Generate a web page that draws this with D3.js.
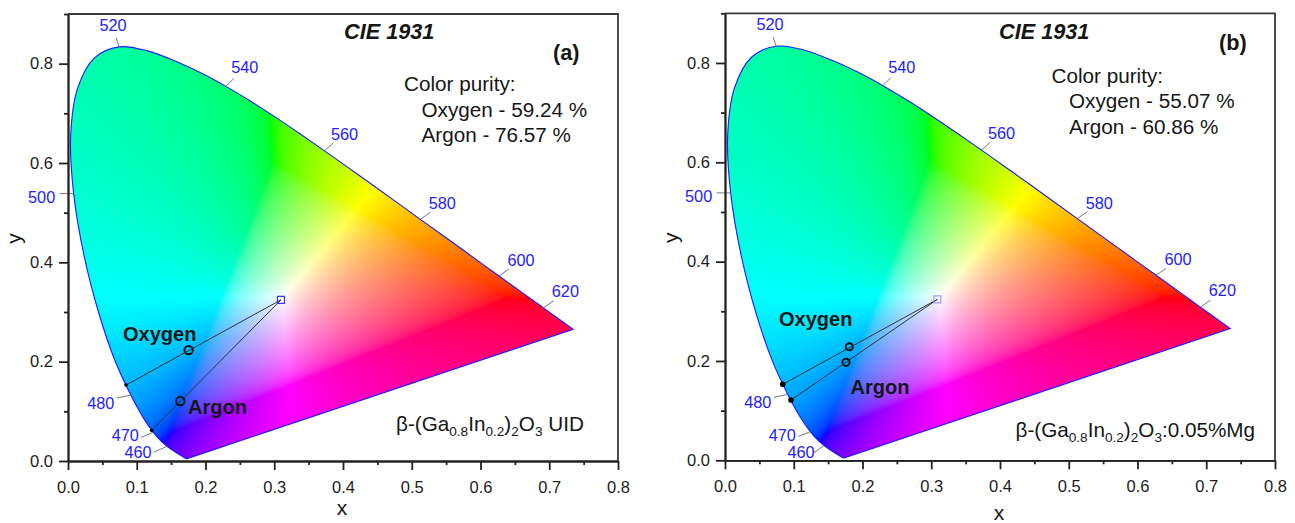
<!DOCTYPE html>
<html>
<head>
<meta charset="utf-8">
<script src="https://cdn.jsdelivr.net/npm/d3@7"></script>
<style>
  html, body { margin: 0; padding: 0; background: #fff; }
  svg { display: block; }
  text { font-family: "Liberation Sans", Arial, sans-serif; fill: #161616; }
</style>
</head>
<body>
<script>
// spectral locus (x, y by wavelength)
const locusNm = [400,420,430,440,450,460,465,470,475,480,485,490,495,500,505,510,515,520,525,530,535,540,545,550,555,560,565,570,575,580,585,590,595,600,605,610,615,620,630,640,650,700];
const locusX = [0.1733,0.1714,0.1689,0.1644,0.1566,0.1440,0.1355,0.1241,0.1096,0.0913,0.0687,0.0454,0.0235,0.0082,0.0039,0.0139,0.0389,0.0743,0.1142,0.1547,0.1929,0.2296,0.2658,0.3016,0.3373,0.3731,0.4087,0.4441,0.4788,0.5125,0.5448,0.5752,0.6029,0.6270,0.6482,0.6658,0.6801,0.6915,0.7079,0.7190,0.7260,0.7347];
const locusY = [0.0048,0.0051,0.0069,0.0109,0.0177,0.0297,0.0399,0.0578,0.0868,0.1327,0.2007,0.2950,0.4127,0.5384,0.6548,0.7502,0.8120,0.8338,0.8262,0.8059,0.7816,0.7543,0.7243,0.6923,0.6589,0.6245,0.5896,0.5547,0.5202,0.4866,0.4544,0.4242,0.3965,0.3725,0.3514,0.3340,0.3197,0.3083,0.2920,0.2809,0.2740,0.2653];

const waveLabels = [460,470,480,500,520,540,560,580,600,620];
const majorTicksX = [0,0.1,0.2,0.3,0.4,0.5,0.6,0.7,0.8];
const minorTicksX = [0.05,0.15,0.25,0.35,0.45,0.55,0.65,0.75];
const majorTicksY = [0,0.2,0.4,0.6,0.8];
const minorTicksY = [0.1,0.3,0.5,0.7,0.9];

// panel a: source, sample, dominant wavelength point
const whiteA = [0.3098,0.3245];
const oxygenSampleA = [0.1755,0.2233];
const oxygenDomA = [0.0844,0.1529];
const argonSampleA = [0.1634,0.1207];
const argonDomA = [0.1217,0.0617];
const purityA = ["Oxygen - 59.24 %","Argon - 76.57 %"];

// panel b
const whiteB = [0.3089,0.324];
const oxygenSampleB = [0.1808,0.2286];
const oxygenDomB = [0.0839,0.1529];
const argonSampleB = [0.176,0.1972];
const argonDomB = [0.096,0.1213];
const purityB = ["Oxygen - 55.07 %","Argon - 60.86 %"];

const W = 1295, H = 523;
const svg = d3.select("body").append("svg").attr("width", W).attr("height", H);

// label placement around the locus, px relative to the locus point
const waveLayout = {
  460:[-13,6,-29,6], 470:[-12,5,-28,3], 480:[-14,3,-30,8], 500:[-14,0,-32,3],
  520:[-3,-9,-6,-22], 540:[8,-8,19,-19], 560:[9,-8,20,-17], 580:[10,-7,22,-16],
  600:[10,-7,22,-16], 620:[10,-7,22,-17]
};

const blur = svg.append("filter").attr("id", "soft")
  .attr("x", 0).attr("y", 0).attr("width", 1).attr("height", 1);
blur.append("feGaussianBlur").attr("stdDeviation", 1.6);

function gamutColor(x, y) {
  const X = x / y, Z = (1 - x - y) / y;
  let r = 3.2406*X - 1.5372 - 0.4986*Z;
  let g = -0.9689*X + 1.8758 + 0.0415*Z;
  let b = 0.0557*X - 0.2040 + 1.0570*Z;
  const lo = Math.min(r, g, b);
  if (lo < 0) { r -= lo; g -= lo; b -= lo; }
  const hi = Math.max(r, g, b);
  const enc = v => Math.round(255*Math.pow(v / hi, 1/2));
  return [enc(r), enc(g), enc(b)];
}

function drawPanel(cfg, id) {
  const xs = d3.scaleLinear().domain([0,0.8]).range([cfg.left, cfg.left + 550]);
  const ys = d3.scaleLinear().domain([0,0.9]).range([cfg.bottom, cfg.bottom - 447]);
  const g = svg.append("g");

  const locus = d3.range(locusX.length).map(i => [xs(locusX[i]), ys(locusY[i])]);
  const outline = d3.line().curve(d3.curveCatmullRom)(locus) + "Z";

  // colour field
  const cw = 550, ch = 447;
  const canvas = document.createElement("canvas");
  canvas.width = cw; canvas.height = ch;
  const ctx = canvas.getContext("2d");
  const img = ctx.createImageData(cw, ch);
  for (let j = 0; j < ch; j++) {
    for (let i = 0; i < cw; i++) {
      const x = xs.invert(cfg.left + i + 0.5), y = ys.invert(cfg.bottom - 447 + j + 0.5);
      const c = gamutColor(x, Math.max(y, 0.001));
      const k = (j*cw + i)*4;
      img.data[k] = c[0]; img.data[k+1] = c[1]; img.data[k+2] = c[2]; img.data[k+3] = 255;
    }
  }
  ctx.putImageData(img, 0, 0);

  svg.append("clipPath").attr("id", id).append("path").attr("d", outline);
  g.append("g").attr("clip-path", `url(#${id})`)
    .append("image")
    .attr("href", canvas.toDataURL())
    .attr("x", cfg.left).attr("y", cfg.bottom - 447)
    .attr("width", cw).attr("height", ch)
    .attr("filter", "url(#soft)");
  g.append("path").attr("d", outline).attr("fill", "none").attr("stroke", "#1a1aff").attr("stroke-width", 1.1);

  // wavelength leaders and labels
  waveLabels.forEach(w => {
    const i = locusNm.indexOf(w);
    const px = xs(locusX[i]), py = ys(locusY[i]);
    const l = (cfg.layout && cfg.layout[w]) || waveLayout[w];
    g.append("line").attr("x1", px).attr("y1", py).attr("x2", px + l[0]).attr("y2", py + l[1])
      .attr("stroke", "#666").attr("stroke-width", 0.9);
    g.append("text").attr("x", px + l[2]).attr("y", py + l[3])
      .attr("text-anchor", "middle").attr("dominant-baseline", "central")
      .style("fill", "#2222ff").attr("font-size", 16.3).text(w);
  });

  // axes
  const ax = g.append("g").attr("transform", `translate(0,${cfg.bottom})`)
    .call(d3.axisBottom(xs).tickValues(majorTicksX).tickFormat(d3.format(".1f")).tickSize(9).tickPadding(11).tickSizeOuter(0));
  const ax2 = g.append("g").attr("transform", `translate(0,${cfg.bottom})`)
    .call(d3.axisBottom(xs).tickValues(minorTicksX).tickFormat("").tickSize(4).tickSizeOuter(0));
  const ay = g.append("g").attr("transform", `translate(${cfg.left},0)`)
    .call(d3.axisLeft(ys).tickValues(majorTicksY).tickFormat(d3.format(".1f")).tickSize(9).tickPadding(6).tickSizeOuter(0));
  const ay2 = g.append("g").attr("transform", `translate(${cfg.left},0)`)
    .call(d3.axisLeft(ys).tickValues(minorTicksY).tickFormat("").tickSize(4).tickSizeOuter(0));
  [ax, ax2, ay, ay2].forEach(a => {
    a.selectAll("path,line").attr("stroke", "#222").attr("stroke-width", 1.8);
    a.selectAll("text").attr("font-size", 16.5).attr("font-family", null).style("fill", "#1c1c1c");
  });
  g.append("path")
    .attr("d", `M${xs(0)},${ys(0.9)}H${xs(0.8)}V${ys(0)}`)
    .attr("fill", "none").attr("stroke", "#3a3a3a").attr("stroke-width", 1.8);

  g.append("text").attr("x", xs(0.4) - 1).attr("y", cfg.xLabelY).attr("text-anchor", "middle").attr("font-size", 21).text("x");
  g.append("text").attr("transform", `translate(${cfg.left - 47},${ys(0.45) + 1}) rotate(-90)`)
    .attr("text-anchor", "middle").attr("font-size", 21).text("y");

  // sample lines
  [[cfg.oxS, cfg.oxD], [cfg.arS, cfg.arD]].forEach(p => {
    g.append("line").attr("x1", xs(cfg.white[0])).attr("y1", ys(cfg.white[1]))
      .attr("x2", xs(p[1][0])).attr("y2", ys(p[1][1]))
      .attr("stroke", "#333").attr("stroke-width", 1);
    g.append("circle").attr("cx", xs(p[1][0])).attr("cy", ys(p[1][1])).attr("r", cfg.dotR).attr("fill", "#000");
    g.append("circle").attr("cx", xs(p[0][0])).attr("cy", ys(p[0][1])).attr("r", cfg.ringR)
      .attr("fill", "none").attr("stroke", "#111").attr("stroke-width", 2);
  });
  g.append("rect").attr("x", xs(cfg.white[0]) - 3.5).attr("y", ys(cfg.white[1]) - 3.5)
    .attr("width", 7).attr("height", 7).attr("fill", "none")
    .attr("stroke", cfg.squareColor).attr("stroke-width", 1.2);

  // annotations
  g.append("text").attr("x", cfg.cie[0]).attr("y", cfg.cie[1]).attr("font-size", 21.7)
    .attr("font-weight", "bold").attr("font-style", "italic").text("CIE 1931");
  g.append("text").attr("x", cfg.tag[0]).attr("y", cfg.tag[1]).attr("font-size", 21.7)
    .attr("font-weight", "bold").text(cfg.tagText);
  g.append("text").attr("x", cfg.purity[0]).attr("y", cfg.purity[1]).attr("font-size", 20.7).text("Color purity:");
  cfg.purityText.forEach((t, i) => {
    g.append("text").attr("x", cfg.purity[0] + 17.5).attr("y", cfg.purity[1] + 25.6*(i + 1)).attr("font-size", 20.7).text(t);
  });
  g.append("text").attr("x", cfg.oxLabel[0]).attr("y", cfg.oxLabel[1]).attr("font-size", 20).attr("font-weight", "bold").text("Oxygen");
  g.append("text").attr("x", cfg.arLabel[0]).attr("y", cfg.arLabel[1]).attr("font-size", 20).attr("font-weight", "bold").text("Argon");

  const f = g.append("text").attr("x", cfg.formula[0]).attr("y", cfg.formula[1]).attr("font-size", 20.7);
  const sub = s => f.append("tspan").attr("font-size", 13.6).attr("dy", 5).text(s);
  const up = s => f.append("tspan").attr("dy", -5).text(s);
  f.append("tspan").text("β-(Ga");
  sub("0.8"); up("In"); sub("0.2"); up(")"); sub("2"); up("O"); sub("3"); up(cfg.suffix);
}

drawPanel({
  left: 68, bottom: 461, white: whiteA, oxS: oxygenSampleA, oxD: oxygenDomA, arS: argonSampleA, arD: argonDomA,
  dotR: 1.8, ringR: 4.2, squareColor: "#3030ee", xLabelY: 515,
  cie: [344,39], tag: [553,60], tagText: "(a)", purity: [404,91], purityText: purityA,
  oxLabel: [123,341], arLabel: [188,414], formula: [396,431], suffix: " UID"
}, "clipA");

drawPanel({
  left: 725, bottom: 460.3, white: whiteB, oxS: oxygenSampleB, oxD: oxygenDomB, arS: argonSampleB, arD: argonDomB,
  dotR: 2.8, ringR: 3.6, squareColor: "#9a9af0", xLabelY: 520,
  cie: [999,39], tag: [1219,50], tagText: "(b)", purity: [1051.5,82.5], purityText: purityB,
  oxLabel: [779,326], arLabel: [850.5,394], formula: [1015.5,437], suffix: ":0.05%Mg",
  layout: { 460:[-10,7,-23,6] }
}, "clipB");
</script>
</body>
</html>
